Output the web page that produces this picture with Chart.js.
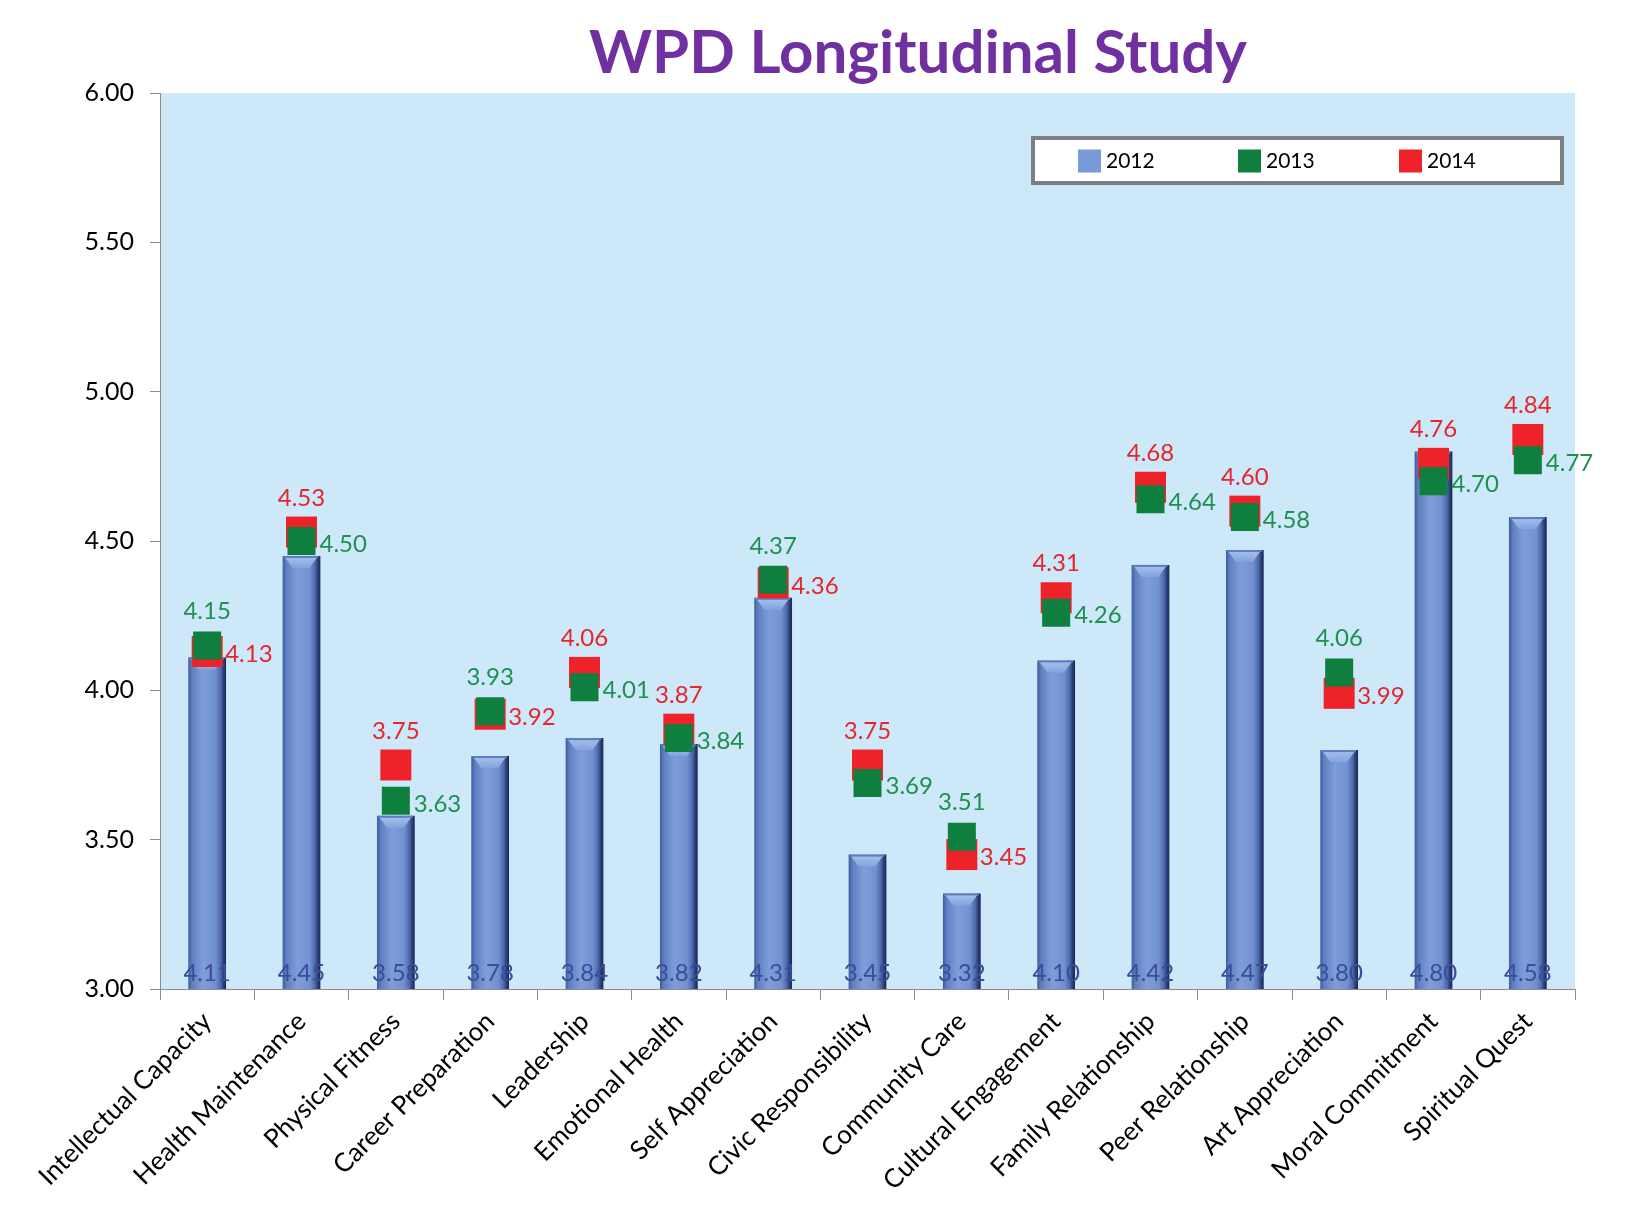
<!DOCTYPE html>
<html><head><meta charset="utf-8">
<script src="https://cdn.jsdelivr.net/npm/chart.js@4.4.1/dist/chart.umd.min.js"></script>
<style>html,body{margin:0;padding:0;background:#fff;}#wrap{width:1625px;height:1217px;position:relative;}</style>
</head><body><div id="wrap"><canvas id="c" width="1625" height="1217"></canvas></div>
<script>
const chartTitle = 'WPD Longitudinal Study';
const categories = ['Intellectual Capacity','Health Maintenance','Physical Fitness','Career Preparation','Leadership','Emotional Health','Self Appreciation','Civic Responsibility','Community Care','Cultural Engagement','Family Relationship','Peer Relationship','Art Appreciation','Moral Commitment','Spiritual Quest'];
const seriesNames = ['2012','2013','2014'];
const values2012 = [4.11,4.45,3.58,3.78,3.84,3.82,4.31,3.45,3.32,4.10,4.42,4.47,3.80,4.80,4.58];
const values2013 = [4.15,4.50,3.63,3.93,4.01,3.84,4.37,3.69,3.51,4.26,4.64,4.58,4.06,4.70,4.77];
const values2014 = [4.13,4.53,3.75,3.92,4.06,3.87,4.36,3.75,3.45,4.31,4.68,4.60,3.99,4.76,4.84];
const yMin = 3, yMax = 6, yStep = 0.5;

const BAR_PCT = 0.40;
const C_BLUE = '#7B9BD8', C_GREEN = '#0E7F3F', C_RED = '#EE2229';
const T_GREEN = '#1E9050', T_RED = '#E5262C', T_BLUE = '#3B4C9B';

function barGradient(ctx) {
  const chart = ctx.chart;
  const sx = chart.scales.x;
  if (!chart.chartArea || !sx || ctx.dataIndex === undefined) return C_BLUE;
  const cx = sx.getPixelForValue(ctx.dataIndex);
  const w = (sx.getPixelForTick(1) - sx.getPixelForTick(0)) * BAR_PCT;
  const g = chart.ctx.createLinearGradient(cx - w/2, 0, cx + w/2, 0);
  g.addColorStop(0, '#3E5B9C');
  g.addColorStop(0.10, '#5F7FC2');
  g.addColorStop(0.40, '#7E9EDA');
  g.addColorStop(0.72, '#7090D0');
  g.addColorStop(0.86, '#4C69AC');
  g.addColorStop(0.93, '#2C3F78');
  g.addColorStop(1, '#1A2750');
  return g;
}

const bgPlugin = {
  id: 'bg',
  beforeDraw(chart) {
    const {ctx, chartArea: a} = chart;
    ctx.save(); ctx.fillStyle = '#CDE8F9';
    ctx.fillRect(a.left, a.top, a.right - a.left, a.bottom - a.top);
    ctx.restore();
  }
};

const barDeco = {
  id: 'barDeco',
  afterDatasetDraw(chart, args) {
    if (args.index !== 0) return;
    const ctx = chart.ctx;
    const meta = chart.getDatasetMeta(0);
    ctx.save();
    meta.data.forEach((el, i) => {
      const l = el.x - el.width/2, r = el.x + el.width/2, t = el.y;
      const g = ctx.createLinearGradient(0, t, 0, t + 14);
      g.addColorStop(0, '#A8C2EE');
      g.addColorStop(1, '#7E9EDA');
      ctx.fillStyle = g;
      ctx.beginPath();
      ctx.moveTo(l + 2, t + 1); ctx.lineTo(r - 3, t + 1);
      ctx.lineTo(r - 11, t + 12); ctx.lineTo(l + 10, t + 12); ctx.closePath();
      ctx.fill();
      ctx.fillStyle = '#5E7DBF';
      ctx.fillRect(l + 1, t, el.width - 3, 2);
      ctx.fillStyle = T_BLUE;
      ctx.font = '24px Lato, "Liberation Sans", sans-serif';
      ctx.textAlign = 'center'; ctx.textBaseline = 'middle';
      ctx.fillText(values2012[i].toFixed(2), el.x, chart.chartArea.bottom - 16);
    });
    ctx.restore();
  }
};

const pointLabels = {
  id: 'pointLabels',
  afterDatasetsDraw(chart) {
    const ctx = chart.ctx;
    const g = chart.getDatasetMeta(1).data, r = chart.getDatasetMeta(2).data;
    ctx.save();
    ctx.font = '24px Lato, "Liberation Sans", sans-serif';
    ctx.textBaseline = 'middle';
    categories.forEach((c, i) => {
      const items = [
        {v: values2013[i], el: g[i], col: T_GREEN},
        {v: values2014[i], el: r[i], col: T_RED}
      ];
      items.sort((a, b) => b.v - a.v);
      const hi = items[0], lo = items[1];
      ctx.fillStyle = hi.col; ctx.textAlign = 'center';
      ctx.fillText(hi.v.toFixed(2), hi.el.x, hi.el.y - 34);
      ctx.fillStyle = lo.col; ctx.textAlign = 'left';
      ctx.fillText(lo.v.toFixed(2), lo.el.x + 18, lo.el.y + 3);
    });
    ctx.restore();
  }
};

const legendBox = {
  id: 'legendBox',
  afterDraw(chart) {
    const ctx = chart.ctx, a = chart.chartArea;
    const bx = a.right - 542, by = a.top + 45, bw = 529, bh = 45;
    ctx.save();
    ctx.fillStyle = '#FFFFFF';
    ctx.fillRect(bx, by, bw, bh);
    ctx.strokeStyle = '#7F7F7F'; ctx.lineWidth = 4;
    ctx.strokeRect(bx, by, bw, bh);
    const cols = [C_BLUE, C_GREEN, C_RED];
    const offs = [45, 205, 366];
    ctx.font = '21px Lato, "Liberation Sans", sans-serif';
    ctx.textBaseline = 'middle'; ctx.textAlign = 'left';
    seriesNames.forEach((s, k) => {
      const x = bx + offs[k], y = by + bh/2;
      ctx.fillStyle = cols[k];
      ctx.fillRect(x, y - 11, 23, 23);
      ctx.fillStyle = '#000';
      ctx.fillText(s, x + 28, y + 1);
    });
    ctx.restore();
  }
};

const titlePlugin = {
  id: 'titleText',
  afterDraw(chart) {
    const ctx = chart.ctx;
    ctx.save();
    ctx.font = 'bold 60px Lato, "Liberation Sans", sans-serif';
    ctx.fillStyle = '#7030A0';
    ctx.textAlign = 'center'; ctx.textBaseline = 'alphabetic';
    ctx.fillText(chartTitle, 918, 73);
    ctx.restore();
  }
};

new Chart(document.getElementById('c'), {
  data: {
    labels: categories,
    datasets: [
      {type: 'bar', label: seriesNames[0], data: values2012, backgroundColor: barGradient,
       barPercentage: BAR_PCT, categoryPercentage: 1, order: 2, borderWidth: 0},
      {type: 'line', label: seriesNames[1], data: values2013, showLine: false, pointStyle: 'rect',
       pointRadius: 19.8, pointBackgroundColor: C_GREEN, pointBorderWidth: 0, borderColor: C_GREEN, order: 0},
      {type: 'line', label: seriesNames[2], data: values2014, showLine: false, pointStyle: 'rect',
       pointRadius: 21.9, pointBackgroundColor: C_RED, pointBorderWidth: 0, borderColor: C_RED, order: 1}
    ]
  },
  options: {
    responsive: false, devicePixelRatio: 1, animation: false, events: [],
    layout: {padding: {top: 93, right: 50, left: 0, bottom: 0}},
    plugins: {legend: {display: false}, tooltip: {enabled: false}, title: {display: false}},
    scales: {
      y: {
        min: yMin, max: yMax,
        ticks: {stepSize: yStep, callback: v => Number(v).toFixed(2), color: '#000',
                font: {family: 'Lato', size: 25}, padding: 16},
        grid: {drawOnChartArea: false, drawTicks: true, tickLength: 10, color: '#8C8C8C'},
        border: {color: '#8C8C8C', width: 1},
        afterFit: s => { s.width = 160; }
      },
      x: {
        ticks: {minRotation: 45, maxRotation: 45, color: '#000', font: {family: 'Lato', size: 26}, padding: 6, autoSkip: false},
        grid: {offset: true, drawOnChartArea: false, drawTicks: true, tickLength: 11, color: '#8C8C8C'},
        border: {color: '#8C8C8C', width: 1},
        afterFit: s => { s.height = 228; }
      }
    }
  },
  plugins: [bgPlugin, barDeco, pointLabels, legendBox, titlePlugin]
});
</script>
</body></html>
